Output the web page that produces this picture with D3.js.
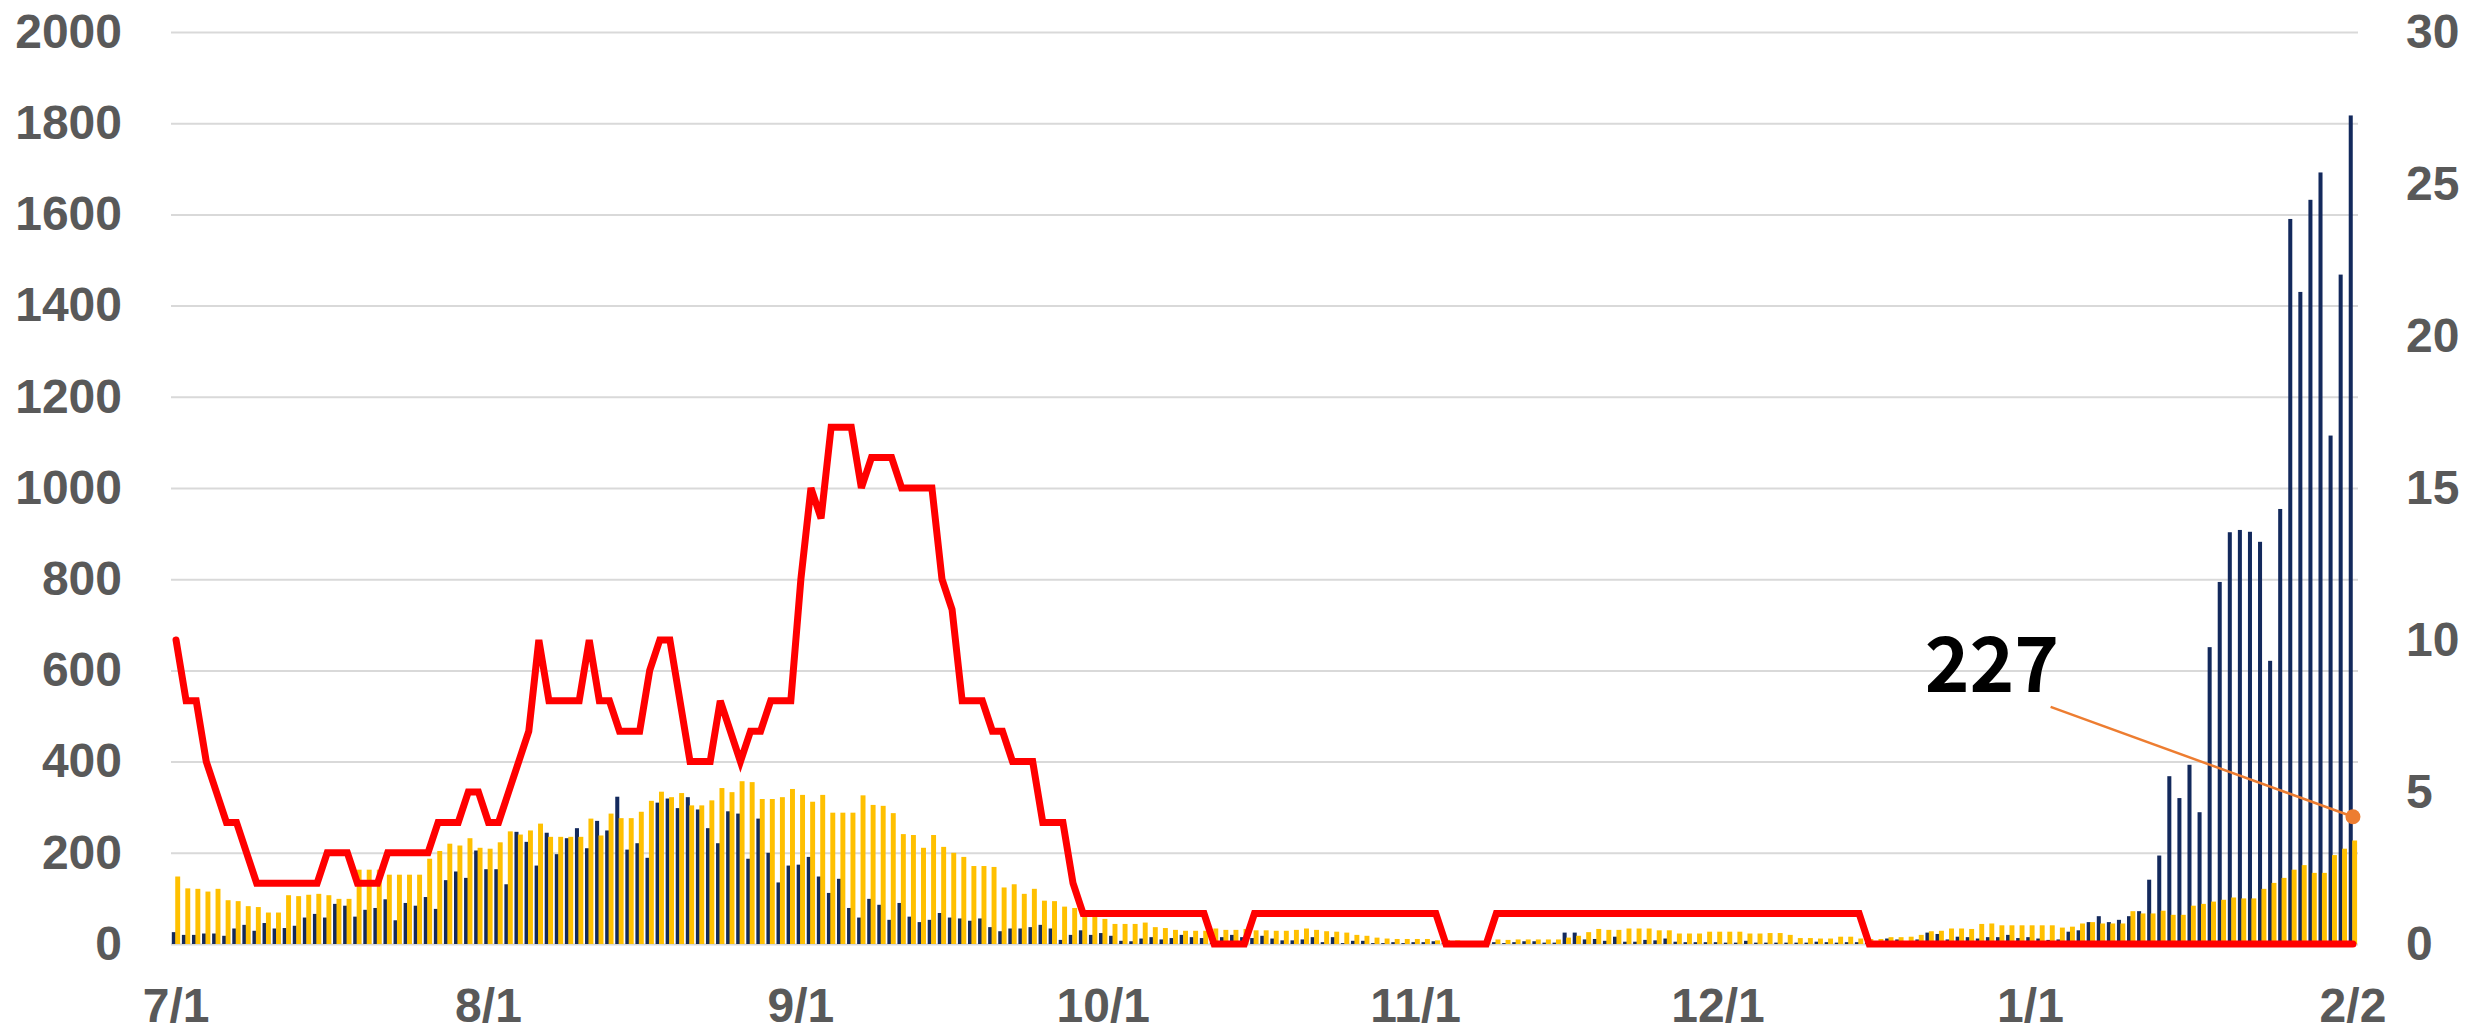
<!DOCTYPE html>
<html>
<head>
<meta charset="utf-8">
<script src="https://d3js.org/d3.v7.min.js"></script>
<style>
  body { margin: 0; background: #ffffff; }
  .tick text { font-family: "Liberation Sans", Arial, sans-serif; font-weight: bold; fill: #595959; }
</style>
</head>
<body>
<div id="chart"></div>
<script>
// Daily data 2021/7/1 - 2022/2/2, one array per month
// navy bars (left axis)
var navyJul = [26, 20, 20, 23, 23, 18, 34, 42, 29, 46, 34, 35, 40, 58, 66, 58, 88, 84, 60, 75, 79, 98, 52, 90, 84, 103, 77, 140, 159, 145, 205];
var navyAug = [164, 164, 131, 246, 224, 172, 244, 197, 232, 254, 210, 270, 249, 323, 207, 221, 189, 310, 319, 298, 322, 295, 254, 221, 291, 286, 187, 275, 200, 135, 172];
var navySep = [174, 191, 148, 112, 143, 79, 58, 99, 86, 53, 90, 60, 48, 53, 68, 58, 56, 51, 56, 37, 28, 34, 34, 37, 42, 34, 9, 20, 30, 20];
var navyOct = [24, 18, 7, 6, 12, 15, 10, 13, 20, 15, 13, 5, 15, 20, 15, 13, 18, 12, 8, 8, 10, 15, 4, 15, 2, 7, 7, 2, 2, 4, 2];
var navyNov = [4, 4, 6, 3, 2, 2, 2, 3, 4, 2, 4, 6, 6, 3, 3, 25, 25, 10, 11, 7, 16, 5, 5, 9, 8, 12, 5, 4, 4, 4];
var navyDec = [4, 3, 3, 7, 3, 3, 3, 3, 3, 3, 5, 4, 3, 4, 4, 4, 6, 12, 10, 6, 10, 25, 22, 10, 16, 15, 12, 15, 15, 20, 13];
var navyJan = [15, 12, 9, 10, 27, 30, 48, 61, 48, 53, 61, 72, 141, 194, 368, 320, 393, 289, 651, 794, 903, 908, 904, 882, 621, 954, 1590, 1430, 1632, 1692, 1115];
var navyFeb = [1468, 1817];

// yellow bars (left axis)
var yellowJul = [148, 122, 121, 115, 121, 96, 94, 83, 81, 69, 69, 107, 105, 108, 110, 107, 99, 99, 163, 163, 163, 152, 152, 152, 152, 187, 204, 220, 216, 232, 211];
var yellowAug = [209, 223, 247, 240, 249, 264, 235, 235, 235, 235, 275, 238, 286, 276, 276, 290, 314, 334, 322, 331, 304, 304, 315, 342, 333, 357, 355, 318, 318, 322, 340];
var yellowSep = [327, 312, 327, 288, 288, 288, 326, 305, 303, 287, 241, 239, 211, 239, 213, 200, 191, 171, 171, 169, 124, 131, 110, 121, 95, 94, 82, 79, 62, 62];
var yellowOct = [55, 44, 44, 44, 47, 37, 35, 31, 29, 29, 29, 34, 31, 31, 33, 30, 30, 29, 29, 31, 34, 31, 28, 27, 25, 20, 18, 14, 12, 11, 11];
var yellowNov = [11, 11, 8, 9, 8, 6, 6, 6, 10, 9, 10, 10, 10, 10, 10, 14, 18, 26, 33, 31, 31, 34, 34, 34, 30, 30, 23, 23, 23, 27];
var yellowDec = [27, 27, 27, 23, 23, 24, 24, 20, 13, 13, 12, 12, 16, 16, 12, 11, 11, 15, 15, 16, 20, 28, 29, 34, 34, 33, 44, 45, 41, 41, 41];
var yellowJan = [41, 41, 41, 36, 38, 45, 48, 45, 45, 45, 72, 67, 67, 73, 64, 64, 84, 88, 93, 97, 102, 100, 100, 121, 134, 145, 163, 173, 156, 156, 195];
var yellowFeb = [209, 227];

// red line (right axis)
var redJul = [10, 8, 8, 6, 5, 4, 4, 3, 2, 2, 2, 2, 2, 2, 2, 3, 3, 3, 2, 2, 2, 3, 3, 3, 3, 3, 4, 4, 4, 5, 5];
var redAug = [4, 4, 5, 6, 7, 10, 8, 8, 8, 8, 10, 8, 8, 7, 7, 7, 9, 10, 10, 8, 6, 6, 6, 8, 7, 6, 7, 7, 8, 8, 8];
var redSep = [12, 15, 14, 17, 17, 17, 15, 16, 16, 16, 15, 15, 15, 15, 12, 11, 8, 8, 8, 7, 7, 6, 6, 6, 4, 4, 4, 2, 1, 1];
var redOct = [1, 1, 1, 1, 1, 1, 1, 1, 1, 1, 1, 0, 0, 0, 0, 1, 1, 1, 1, 1, 1, 1, 1, 1, 1, 1, 1, 1, 1, 1, 1];
var redNov = [1, 1, 1, 0, 0, 0, 0, 0, 1, 1, 1, 1, 1, 1, 1, 1, 1, 1, 1, 1, 1, 1, 1, 1, 1, 1, 1, 1, 1, 1];
var redDec = [1, 1, 1, 1, 1, 1, 1, 1, 1, 1, 1, 1, 1, 1, 1, 0, 0, 0, 0, 0, 0, 0, 0, 0, 0, 0, 0, 0, 0, 0, 0];
var redJan = [0, 0, 0, 0, 0, 0, 0, 0, 0, 0, 0, 0, 0, 0, 0, 0, 0, 0, 0, 0, 0, 0, 0, 0, 0, 0, 0, 0, 0, 0, 0];
var redFeb = [0, 0];

var navyValues = [].concat(navyJul, navyAug, navySep, navyOct, navyNov, navyDec, navyJan, navyFeb);
var yellowValues = [].concat(yellowJul, yellowAug, yellowSep, yellowOct, yellowNov, yellowDec, yellowJan, yellowFeb);
var redValues = [].concat(redJul, redAug, redSep, redOct, redNov, redDec, redJan, redFeb);

// Axis ticks
var xTickLabels = ['7/1', '8/1', '9/1', '10/1', '11/1', '12/1', '1/1', '2/2'];
var leftTicks = [0, 200, 400, 600, 800, 1000, 1200, 1400, 1600, 1800, 2000];
var rightTicks = [0, 5, 10, 15, 20, 25, 30];

// Callout on the last day
var calloutText = '227';

// Categories: one per day
var days = d3.timeDay.range(new Date(2021, 6, 1), new Date(2022, 1, 3));
var dayLabels = days.map(d => (d.getMonth() + 1) + '/' + d.getDate());

var svgWidth = 2479;
var svgHeight = 1034;

var margin = {
    top: 32,
    bottom: 90,
    left: 171,
    right: 121
};

var width = svgWidth - margin.left - margin.right;
var height = svgHeight - margin.top - margin.bottom;

var svg = d3.select('#chart')
    .append('svg')
    .attr('width', svgWidth)
    .attr('height', svgHeight);

var chartGroup = svg.append('g')
    .attr('transform', `translate(${margin.left}, ${margin.top})`);

// Scales
var xScale = d3.scaleBand()
    .domain(dayLabels)
    .range([0, width])
    .padding(0);

var yLeft = d3.scaleLinear()
    .domain([0, 2000])
    .range([height, 0]);

var yRight = d3.scaleLinear()
    .domain([0, 30])
    .range([height, 0]);

var bw = xScale.bandwidth();

// Gridlines
var grid = chartGroup.append('g')
    .call(d3.axisLeft(yLeft).tickValues(leftTicks).tickSize(-width).tickFormat(''));
grid.select('.domain').remove();
grid.selectAll('line')
    .attr('stroke', '#d9d9d9')
    .attr('stroke-width', 2);

// Navy bars
chartGroup.selectAll('.navy')
    .data(navyValues)
    .enter()
    .append('rect')
    .attr('class', 'navy')
    .attr('x', (d, i) => xScale(dayLabels[i]) + bw * 0.08)
    .attr('width', bw * 0.4)
    .attr('y', d => yLeft(d))
    .attr('height', d => height - yLeft(d))
    .attr('fill', '#13295c');

// Yellow bars
chartGroup.selectAll('.yellow')
    .data(yellowValues)
    .enter()
    .append('rect')
    .attr('class', 'yellow')
    .attr('x', (d, i) => xScale(dayLabels[i]) + bw * 0.42)
    .attr('width', bw * 0.49)
    .attr('y', d => yLeft(d))
    .attr('height', d => height - yLeft(d))
    .attr('fill', '#ffc000');

// Red line on right axis
var redLine = d3.line()
    .x((d, i) => xScale(dayLabels[i]) + bw / 2)
    .y(d => yRight(d));

chartGroup.append('path')
    .datum(redValues)
    .attr('d', redLine)
    .attr('fill', 'none')
    .attr('stroke', '#ff0000')
    .attr('stroke-width', 7)
    .attr('stroke-linecap', 'round');

// Axes
var leftAxis = chartGroup.append('g')
    .call(d3.axisLeft(yLeft).tickValues(leftTicks).tickFormat(d3.format('d')).tickSize(0).tickPadding(49));

var rightAxis = chartGroup.append('g')
    .attr('transform', `translate(${width}, 0)`)
    .call(d3.axisRight(yRight).tickValues(rightTicks).tickFormat(d3.format('d')).tickSize(0).tickPadding(48));

var bottomAxis = chartGroup.append('g')
    .attr('transform', `translate(0, ${height})`)
    .call(d3.axisBottom(xScale).tickValues(xTickLabels).tickSize(0).tickPadding(44));

[leftAxis, rightAxis, bottomAxis].forEach(function(ax) {
    ax.select('.domain').remove();
    ax.selectAll('text').style('font-size', '48px');
});

// Callout: label, leader line and dot on the last day
var lastDay = dayLabels[dayLabels.length - 1];

chartGroup.append('line')
    .attr('x1', xScale(dayLabels[186]) + bw / 2)
    .attr('y1', yLeft(520))
    .attr('x2', xScale(lastDay) + bw / 2)
    .attr('y2', yLeft(279))
    .attr('stroke', '#ed7d31')
    .attr('stroke-width', 2.5);

chartGroup.append('circle')
    .attr('cx', xScale(lastDay) + bw / 2)
    .attr('cy', yLeft(279))
    .attr('r', 7.5)
    .attr('fill', '#ed7d31');

chartGroup.append('text')
    .attr('x', xScale(dayLabels[174]))
    .attr('y', yLeft(553))
    .text(calloutText)
    .style('font-family', '"Noto Sans CJK JP", "Noto Sans", sans-serif')
    .style('font-weight', 'bold')
    .style('font-size', '76px')
    .attr('fill', '#000000');
</script>
</body>
</html>
